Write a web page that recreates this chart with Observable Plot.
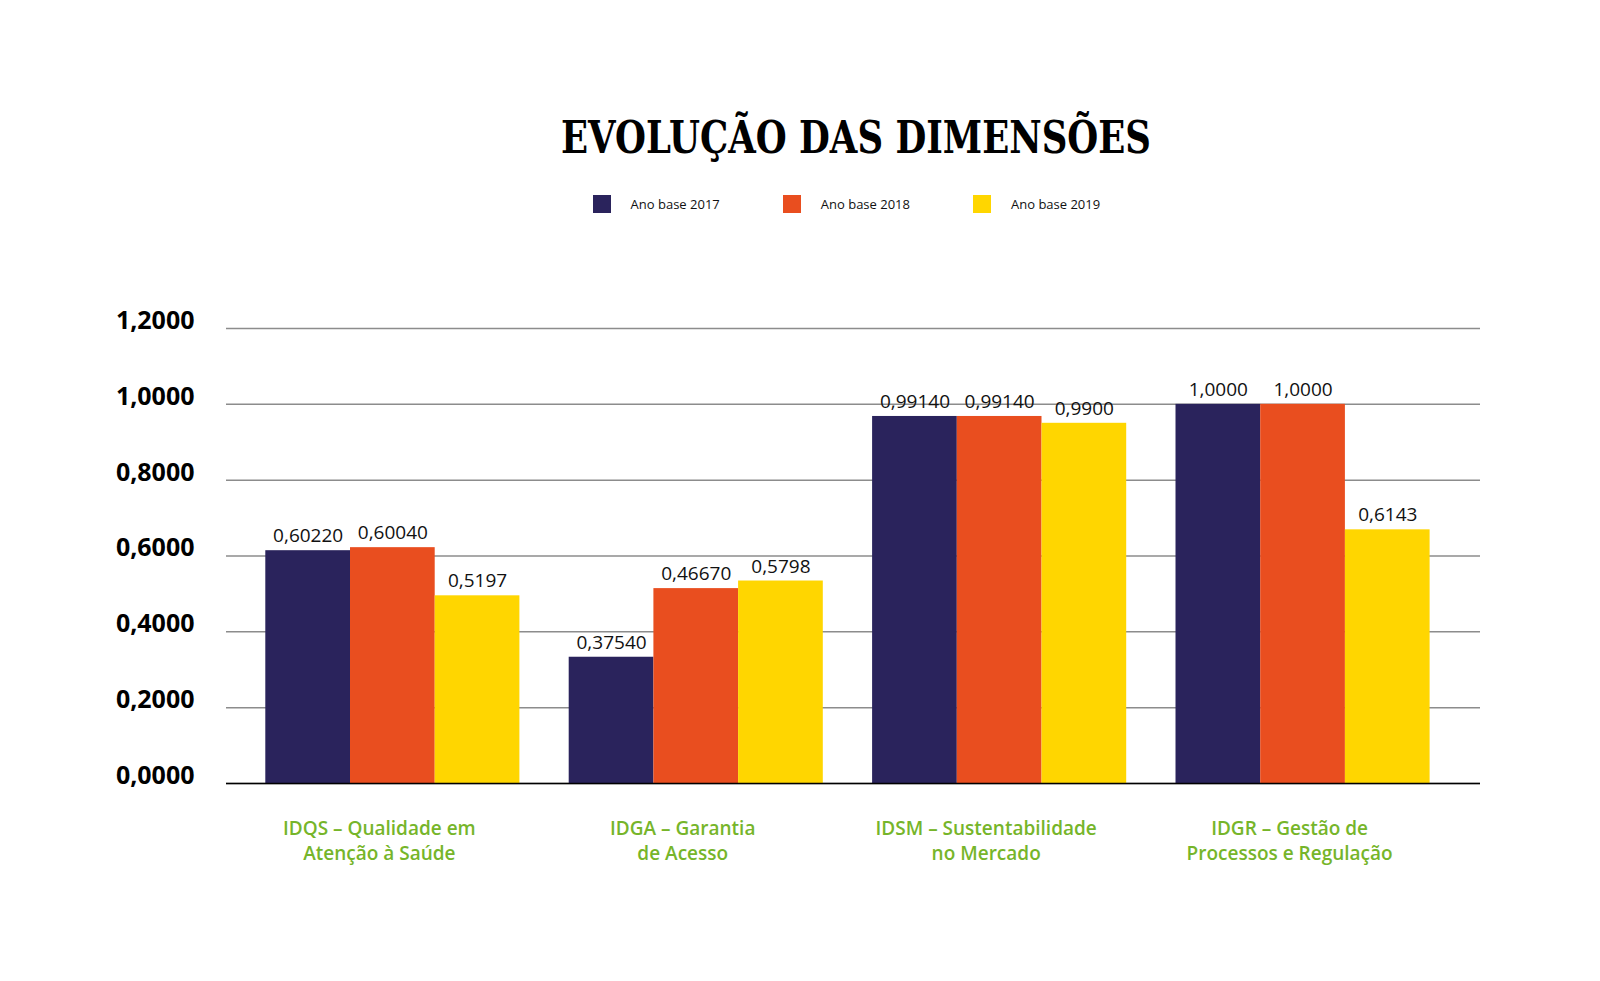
<!DOCTYPE html>
<html>
<head>
<meta charset="utf-8">
<script src="https://cdn.jsdelivr.net/npm/d3@7"></script>
<script src="https://cdn.jsdelivr.net/npm/@observablehq/plot@0.6"></script>
<style>
  html, body { margin: 0; padding: 0; background: #fff; }
  #wrap { position: relative; width: 1600px; }
  #header { position: relative; width: 1600px; height: 230px; }
  #title {
    position: absolute; left: 856px; top: 115px;
    font-family: "DejaVu Serif", serif; font-weight: bold; font-size: 45px;
    line-height: 45px; white-space: nowrap; color: #000;
    transform-origin: 0 0;
  }
  .sw { position: absolute; top: 195px; width: 18px; height: 18px; }
  .lt {
    position: absolute; top: 195px; height: 18px; line-height: 18px;
    font-family: "Open Sans", sans-serif; font-size: 13px; font-weight: 500;
    color: #111; white-space: nowrap;
  }
  #chart svg { display: block; }
</style>
</head>
<body>
<div id="wrap">
  <div id="header">
    <div id="title">EVOLUÇÃO DAS DIMENSÕES</div>
  </div>
  <div id="chart"></div>
</div>
<script>
// ---- data ----
const categories = [
  "IDQS – Qualidade em\nAtenção à Saúde",
  "IDGA – Garantia\nde Acesso",
  "IDSM – Sustentabilidade\nno Mercado",
  "IDGR – Gestão de\nProcessos e Regulação"
];
const years = ["Ano base 2017", "Ano base 2018", "Ano base 2019"];
const colors = ["#2a235c", "#e94e1f", "#ffd600"];
// bar heights as drawn in the picture
const values2017 = [0.614, 0.333, 0.968, 1.000];
const values2018 = [0.622, 0.514, 0.968, 1.000];
const values2019 = [0.495, 0.534, 0.950, 0.669];
// value labels as printed
const labels2017 = ["0,60220", "0,37540", "0,99140", "1,0000"];
const labels2018 = ["0,60040", "0,46670", "0,99140", "1,0000"];
const labels2019 = ["0,5197", "0,5798", "0,9900", "0,6143"];
const yTicks = [0, 0.2, 0.4, 0.6, 0.8, 1.0, 1.2];

const seriesValues = [values2017, values2018, values2019];
const seriesLabels = [labels2017, labels2018, labels2019];

// ---- title width fit ----
const title = document.getElementById("title");
const tw = title.getBoundingClientRect().width;
const targetW = 590;
title.style.left = (856 - targetW / 2) + "px";
title.style.transform = `scaleX(${targetW / tw})`;

// ---- legend ----
const header = document.getElementById("header");
years.forEach((y, i) => {
  const sw = document.createElement("div");
  sw.className = "sw";
  sw.style.left = (593 + i * 190.2) + "px";
  sw.style.background = colors[i];
  header.appendChild(sw);
  const t = document.createElement("div");
  t.className = "lt";
  t.style.left = (630.6 + i * 190.2) + "px";
  t.textContent = y;
  header.appendChild(t);
});

// ---- chart ----
const rows = [];
years.forEach((y, i) => {
  categories.forEach((c, j) => {
    rows.push({category: c, year: y, yi: i, value: seriesValues[i][j], label: seriesLabels[i][j]});
  });
});

const x0 = 265.3, x1 = 1429.6, padIn = 0.1625;
const step = (x1 - x0) / (categories.length - padIn);
const bw = step * (1 - padIn);
const third = bw / 3;

const fmt = d => d.toFixed(4).replace(".", ",");

const marks = [
  Plot.gridY(yTicks, {stroke: "#8c8c8c", strokeOpacity: 1, strokeWidth: 1.5}),
];
years.forEach((y, i) => {
  const data = rows.filter(r => r.yi === i);
  marks.push(Plot.barY(data, {
    x: "category", y: "value", fill: colors[i],
    insetLeft: i * third, insetRight: (2 - i) * third
  }));
  marks.push(Plot.text(data, {
    x: "category", y: "value", text: "label",
    dx: (i - 1) * third, dy: -14.5,
    fontSize: 19, fill: "#111"
  }));
});
marks.push(Plot.ruleY([0], {stroke: "#000", strokeWidth: 1.5}));
marks.push(Plot.axisY({
  ticks: yTicks, tickFormat: fmt, tickSize: 0, tickPadding: 32, dy: -7.6,
  fontSize: 25, fontWeight: 700, fill: "#000", label: null
}));
marks.push(Plot.axisX({
  tickSize: 0, tickPadding: 33, dx: -13.5,
  fontSize: 19, fontWeight: 600, fill: "#76b52a", lineHeight: 1.34, label: null
}));

const plot = Plot.plot({
  width: 1600,
  height: 751,
  marginTop: 98,
  marginBottom: 198,
  marginLeft: 226,
  marginRight: 120,
  style: {fontFamily: "Open Sans, sans-serif", background: "#fff", overflow: "visible"},
  x: {type: "band", domain: categories, range: [x0, x1], paddingInner: padIn, paddingOuter: 0, round: false, label: null},
  y: {domain: [0, 1.2], label: null},
  marks
});
document.getElementById("chart").appendChild(plot);
</script>
</body>
</html>
